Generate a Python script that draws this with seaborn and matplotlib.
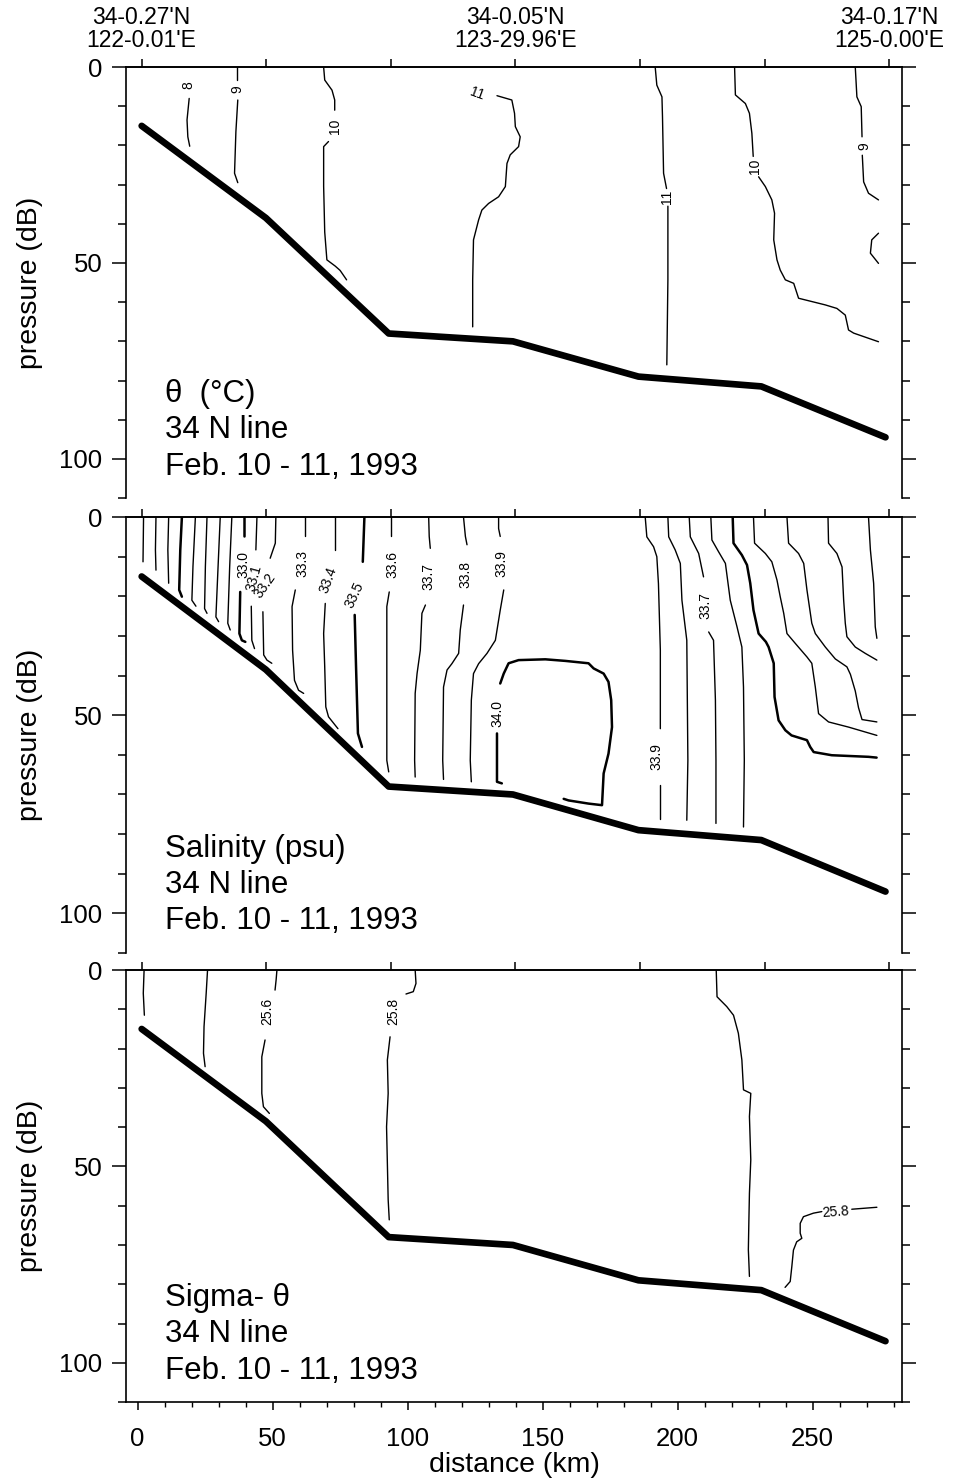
import matplotlib
matplotlib.use("Agg")
import matplotlib.pyplot as plt
import pandas as pd
import seaborn as sns

# ---- bottom topography, same on all three sections (distance km, pressure dB)
topo_km = [1.5, 47.5, 93, 139, 185.5, 231, 277]
topo_db = [15, 38.5, 68, 70, 79, 81.5, 94.5]

# ---- station header on top axis
station_lon = [122.0, 123.5, 125.0]
station_text = ["34-0.27'N\n122-0.01'E", "34-0.05'N\n123-29.96'E", "34-0.17'N\n125-0.00'E"]
lon_ticks = [122.0, 122.5, 123.0, 123.5, 124.0, 124.5, 125.0]
lon0_km = 1.5       # distance of 122E
km_per_deg = 92.3   # one degree of longitude at 34N

# ---- potential temperature contours
theta_8 = [(19.1, 8.0), (18.3, 13.5), (18.6, 17.8), (19.3, 20.2)]
theta_9a = [(36.8, 0.0), (36.8, 3.3)]
theta_9b = [(37.1, 8.4), (36.4, 16.5), (35.9, 27.1), (37.1, 29.5)]
theta_10a = [(68.9, 0.0), (69.3, 3.3), (72.0, 5.9), (73.0, 8.4), (73.0, 11.0)]
theta_10b = [(70.7, 19.0), (68.9, 20.3), (68.9, 30.4), (69.3, 42.1), (70.1, 49.2),
             (73.2, 50.8), (75.0, 51.9), (77.4, 54.3)]
theta_11a = [(133.1, 7.3), (138.6, 8.4), (139.6, 11.8), (139.9, 15.2), (141.7, 17.8),
             (141.1, 20.3), (138.0, 22.4), (136.8, 24.6), (136.2, 30.5), (133.7, 33.1),
             (130.0, 34.8), (127.5, 36.5), (126.3, 39.0), (124.4, 44.1), (124.1, 54.3),
             (124.1, 66.3)]
theta_11b_top = [(191.7, 0.0), (192.3, 4.6), (194.2, 7.6), (194.4, 12.7), (194.8, 27.1),
                 (195.9, 31.0)]
theta_11b_bot = [(196.4, 35.5), (196.4, 54.3), (196.0, 76.0)]
theta_10r_top = [(221.1, 0.0), (221.4, 7.1), (225.1, 9.3), (226.6, 11.8), (227.5, 16.9),
                 (228.0, 22.8)]
theta_10r_bot = [(230.0, 28.0), (232.5, 30.5), (234.9, 33.9), (235.9, 37.3), (235.6, 44.1),
                 (236.8, 49.2), (238.0, 51.8), (239.9, 54.3), (243.0, 55.2), (244.8, 59.0),
                 (254.7, 60.7), (259.0, 61.6), (262.1, 63.3), (263.3, 67.1), (265.2, 67.9),
                 (274.4, 70.1)]
theta_9r_top = [(265.8, 0.0), (266.4, 7.6), (268.0, 10.1), (268.3, 17.8)]
theta_9r_bot = [(268.4, 22.5), (268.9, 29.3), (270.7, 32.2), (274.4, 33.9)]
theta_9r_eddy = [(274.4, 42.4), (271.9, 44.1), (271.4, 47.5), (274.4, 50.1)]

theta_labels = [(18.9, 4.6, "8"), (37.0, 5.6, "9"), (73.0, 15.2, "10"), (125.6, 6.8, "11"),
                (196.0, 33.2, "11"), (228.8, 25.4, "10"), (269.3, 20.1, "9")]
theta_label_rot = [90, 90, 90, -20, 90, 90, 90]

# ---- salinity contours
sal_322 = [(2.2, 0.0), (2.0, 11.3)]
sal_323 = [(6.8, 0.0), (6.6, 8.3), (6.8, 13.4)]
sal_324 = [(11.5, 0.0), (11.2, 8.3), (11.5, 16.7)]
sal_325 = [(16.4, 0.0), (15.8, 8.3), (15.4, 18.4), (16.4, 20.1)]
sal_326 = [(21.4, 0.0), (20.5, 12.5), (20.1, 21.0), (21.6, 22.5)]
sal_327 = [(25.7, 0.0), (25.1, 12.5), (24.8, 23.1), (25.7, 24.3)]
sal_328 = [(30.6, 0.0), (29.8, 12.5), (29.0, 25.2), (30.0, 26.4)]
sal_329 = [(34.9, 0.0), (34.1, 12.5), (33.4, 26.8), (34.3, 28.5)]
sal_330a = [(39.5, 0.0), (39.5, 4.9)]
sal_330b = [(38.0, 18.9), (37.7, 29.4), (38.6, 31.1), (39.9, 31.5)]
sal_331a = [(44.2, 0.0), (43.8, 8.3)]
sal_331b = [(42.1, 22.5), (42.3, 31.1), (43.3, 33.2)]
sal_332a = [(51.2, 0.0), (51.0, 6.6), (49.1, 10.4)]
sal_332b = [(46.4, 23.9), (46.7, 34.8), (47.9, 36.1), (49.7, 36.9)]
sal_333a = [(62.1, 0.0), (62.1, 4.9)]
sal_333b = [(58.4, 18.4), (57.2, 22.6), (57.4, 33.6), (58.1, 41.2), (59.6, 43.7), (61.5, 44.5)]
sal_334a = [(73.0, 0.0), (73.0, 8.3)]
sal_334b = [(69.5, 21.8), (68.9, 29.4), (69.3, 37.8), (69.7, 47.9), (70.7, 50.4), (74.2, 53.4)]
sal_335a = [(84.0, 0.0), (83.4, 11.3)]
sal_335b = [(80.4, 24.7), (80.9, 37.8), (81.6, 54.6), (83.1, 58.0)]
sal_336a = [(94.0, 0.0), (94.0, 4.9)]
sal_336b = [(93.2, 18.9), (92.3, 22.6), (92.3, 61.4), (93.0, 64.3)]
sal_337a = [(107.8, 0.0), (108.0, 4.9), (108.4, 7.9)]
sal_337b = [(106.6, 22.2), (105.3, 24.3), (104.7, 33.6), (103.5, 39.5), (102.8, 44.5),
            (102.6, 61.4), (102.8, 65.6)]
sal_338a = [(120.7, 0.0), (121.4, 4.9), (122.0, 7.0)]
sal_338b = [(120.7, 22.2), (119.5, 28.5), (118.9, 34.4), (116.4, 37.0), (114.6, 38.6),
            (113.3, 42.9), (113.0, 61.4), (113.3, 66.2)]
sal_339a = [(133.7, 0.0), (133.7, 2.9), (134.3, 4.9)]
sal_339b = [(135.6, 18.4), (134.3, 23.5), (132.5, 31.1), (129.4, 34.4), (126.3, 37.0),
            (124.4, 39.5), (123.6, 46.2), (123.2, 61.4), (123.6, 66.8)]
sal_340a = [(134.9, 67.2), (133.1, 66.8), (133.1, 54.6)]
sal_340b = [(134.3, 42.0), (135.6, 39.5), (137.4, 36.9), (141.1, 36.1), (151.0, 35.9),
            (158.4, 36.3), (167.0, 36.9), (168.9, 38.2), (172.6, 39.5), (174.4, 41.6),
            (175.4, 46.2), (175.7, 53.0), (174.4, 59.7), (172.6, 64.7), (172.0, 72.7),
            (167.0, 72.3), (159.6, 71.5), (157.8, 71.1)]
sal_r339a = [(188.0, 0.0), (188.6, 5.0), (191.1, 7.5), (192.3, 10.0), (192.9, 16.8),
             (193.6, 33.6), (193.6, 53.4)]
sal_r339b = [(193.3, 67.7), (193.3, 76.1)]
sal_r338 = [(196.4, 0.0), (196.7, 5.0), (199.1, 8.3), (201.0, 11.7), (201.6, 21.0),
            (203.4, 31.1), (203.8, 61.4), (203.4, 76.5)]
sal_r337a = [(204.3, 0.0), (204.7, 5.0), (207.8, 9.2), (209.6, 15.1)]
sal_r337b = [(211.5, 29.0), (213.3, 31.1), (214.0, 46.2), (214.2, 61.4), (214.2, 77.3)]
sal_r336 = [(212.3, 0.0), (212.7, 5.8), (215.2, 8.8), (217.7, 11.7), (219.5, 21.0),
            (222.0, 27.7), (223.8, 32.8), (224.4, 42.9), (224.7, 61.4), (224.4, 78.2)]
sal_r335 = [(220.4, 0.0), (220.7, 6.6), (223.8, 9.6), (225.7, 12.1), (226.9, 16.7),
            (228.1, 23.5), (230.0, 29.4), (232.7, 31.5), (233.7, 32.8), (235.6, 36.9),
            (235.9, 45.4), (237.4, 51.3), (239.9, 53.8), (242.2, 55.1), (247.9, 56.3),
            (249.1, 58.0), (250.4, 59.3), (257.1, 60.1), (270.7, 60.5), (273.7, 60.7)]
sal_r334 = [(228.1, 0.0), (228.5, 6.6), (232.5, 9.2), (234.9, 11.3), (236.8, 15.9),
            (238.0, 20.1), (239.3, 24.3), (240.5, 29.4), (243.6, 31.9), (247.9, 35.3),
            (249.7, 36.9), (251.0, 42.9), (252.2, 49.6), (255.9, 51.7), (263.3, 53.0),
            (273.8, 55.1)]
sal_r333 = [(240.5, 0.0), (241.1, 6.6), (244.8, 9.2), (246.7, 11.7), (247.9, 18.4),
            (249.7, 26.8), (251.0, 29.4), (254.7, 32.8), (258.4, 35.8), (262.7, 37.8),
            (264.0, 39.7), (265.8, 43.9), (267.0, 48.1), (268.3, 51.1), (273.8, 51.7)]
sal_r332 = [(255.7, 0.0), (255.9, 6.6), (259.0, 9.2), (260.9, 12.6), (261.5, 21.0),
            (262.1, 26.8), (262.7, 30.2), (265.8, 32.8), (269.5, 34.4), (273.8, 36.1)]
sal_r331 = [(270.7, 0.0), (271.4, 8.3), (272.6, 16.7), (273.2, 27.7), (273.8, 30.6)]

sal_labels = [(39.3, 12.1, "33.0"), (43.0, 15.5, "33.1"), (47.3, 17.4, "33.2"),
              (60.9, 11.7, "33.3"), (70.7, 15.9, "33.4"), (80.4, 19.6, "33.5"),
              (94.4, 12.1, "33.6"), (107.8, 15.1, "33.7"), (121.4, 14.6, "33.8"),
              (134.9, 11.7, "33.9"), (133.1, 49.6, "34.0"), (210.3, 22.2, "33.7"),
              (192.0, 60.5, "33.9")]
sal_label_rot = [90, 75, 55, 90, 70, 65, 90, 90, 90, 90, 90, 90, 90]

# ---- sigma-theta contours
sig_252 = [(2.4, 0.0), (2.1, 5.9), (2.5, 11.5)]
sig_254 = [(25.9, 0.0), (25.4, 5.9), (24.6, 14.4), (24.4, 21.2), (25.0, 24.6)]
sig_256a = [(51.6, 0.0), (51.3, 2.5), (50.9, 5.1)]
sig_256b = [(47.2, 17.8), (46.0, 22.1), (46.0, 31.4), (46.6, 34.8), (48.8, 36.5)]
sig_258a = [(102.8, 0.0), (103.1, 3.4), (102.1, 5.5), (99.4, 6.1)]
sig_258b = [(93.5, 17.0), (92.5, 22.9), (92.8, 31.4), (92.2, 39.9), (92.8, 58.5), (93.2, 63.6)]
sig_r258 = [(214.3, 0.0), (214.6, 6.8), (218.2, 9.3), (220.7, 11.5), (222.5, 16.1),
            (223.8, 22.9), (224.4, 30.5), (227.1, 31.4), (226.6, 37.3), (227.1, 48.3),
            (226.6, 56.8), (226.4, 63.6), (226.2, 71.2), (226.6, 78.0)]
sig_e258a = [(273.8, 60.4), (264.5, 60.9)]
sig_e258b = [(253.4, 61.5), (250.3, 61.9), (246.6, 62.8), (245.4, 64.5), (245.4, 67.0),
             (246.0, 68.3), (244.1, 69.2), (242.9, 71.3), (242.3, 75.5), (241.7, 79.3),
             (239.8, 80.8)]

sig_labels = [(47.9, 10.6, "25.6"), (94.7, 10.6, "25.8"), (258.6, 61.6, "25.8")]
sig_label_rot = [90, 90, 4]

panels = [
    dict(thin=[theta_8, theta_9a, theta_9b, theta_10a, theta_10b, theta_11a, theta_11b_top,
               theta_11b_bot, theta_10r_top, theta_10r_bot, theta_9r_top, theta_9r_bot,
               theta_9r_eddy],
         bold=[], labels=theta_labels, rot=theta_label_rot,
         title="\u03b8  (\u00b0C)\n34 N line\nFeb. 10 - 11, 1993"),
    dict(thin=[sal_322, sal_323, sal_324, sal_326, sal_327, sal_328, sal_329, sal_331a, sal_331b,
               sal_332a, sal_332b, sal_333a, sal_333b, sal_334a, sal_334b, sal_336a, sal_336b,
               sal_337a, sal_337b, sal_338a, sal_338b, sal_339a, sal_339b, sal_r339a, sal_r339b,
               sal_r338, sal_r337a, sal_r337b, sal_r336, sal_r334, sal_r333, sal_r332, sal_r331],
         bold=[sal_325, sal_330a, sal_330b, sal_335a, sal_335b, sal_340a, sal_340b, sal_r335],
         labels=sal_labels, rot=sal_label_rot,
         title="Salinity (psu)\n34 N line\nFeb. 10 - 11, 1993"),
    dict(thin=[sig_252, sig_254, sig_256a, sig_256b, sig_258a, sig_258b, sig_r258,
               sig_e258a, sig_e258b],
         bold=[], labels=sig_labels, rot=sig_label_rot,
         title="Sigma- \u03b8\n34 N line\nFeb. 10 - 11, 1993"),
]

sns.set_style("ticks")
plt.rcParams['font.family'] = ['Liberation Sans', 'DejaVu Sans']
plt.rcParams.update({'axes.linewidth': 1.2, 'axes.edgecolor': 'black', 'text.color': 'black',
                     'axes.labelcolor': 'black', 'xtick.color': 'black', 'ytick.color': 'black'})


def segs_to_frame(segs):
    parts = [pd.DataFrame(s, columns=['km', 'db']).assign(seg=i) for i, s in enumerate(segs)]
    return pd.concat(parts, ignore_index=True)


fig = plt.figure(figsize=(9.56, 14.81), dpi=100)
bottoms = [0.6637, 0.3565, 0.0533]
heights = [0.2910, 0.2944, 0.2917]

for k, p in enumerate(panels):
    ax = fig.add_axes([0.1318, bottoms[k], 0.8117, heights[k]])
    sns.lineplot(data=segs_to_frame(p['thin']), x='km', y='db', units='seg', estimator=None,
                 sort=False, color='k', linewidth=1.0, ax=ax, legend=False)
    if p['bold']:
        sns.lineplot(data=segs_to_frame(p['bold']), x='km', y='db', units='seg', estimator=None,
                     sort=False, color='k', linewidth=1.8, ax=ax, legend=False)
    sns.lineplot(x=topo_km, y=topo_db, sort=False, estimator=None, color='k', linewidth=4.8,
                 ax=ax, legend=False)
    for (x, y, t), r in zip(p['labels'], p['rot']):
        ax.text(x, y, t, rotation=r, ha='center', va='center', fontsize=10,
                rotation_mode='anchor')

    ax.text(0.05, 0.038, p['title'], transform=ax.transAxes, fontsize=22.5,
            linespacing=1.28, ha='left', va='bottom')

    ax.set_xlim(-4.3, 283.1)
    ax.set_ylim(110, 0)
    ax.set_yticks([0, 50, 100])
    ax.set_yticks(range(10, 111, 10), minor=True)
    ax.tick_params(axis='y', which='major', length=10, width=1.1, direction='out',
                   left=True, right=True, labelsize=18.5, pad=7)
    ax.tick_params(axis='y', which='minor', length=5.5, width=1.1, direction='out',
                   left=True, right=True)
    ax.set_ylabel('pressure (dB)', fontsize=20.5, labelpad=12)

    if k < 2:
        ax.spines['bottom'].set_visible(False)
        ax.tick_params(axis='x', which='both', bottom=False, top=False, labelbottom=False)
        ax.set_xlabel('')
    else:
        ax.set_xticks(range(0, 251, 50))
        ax.set_xticks(range(10, 281, 10), minor=True)
        ax.tick_params(axis='x', which='major', length=6, width=1.1, direction='out',
                       top=False, labelsize=18.5, pad=12)
        ax.tick_params(axis='x', which='minor', length=3.5, width=1.0, direction='out',
                       top=False)
        ax.set_xlabel('distance (km)', fontsize=20.5, labelpad=1)

    # longitude ticks along the top
    sec = ax.secondary_xaxis('top', functions=(lambda km: (km - lon0_km) / km_per_deg + 122.0,
                                               lambda lon: (lon - 122.0) * km_per_deg + lon0_km))
    sec.set_xticks(lon_ticks)
    sec.set_xticklabels([])
    sec.tick_params(axis='x', length=6, width=1.1, direction='out')
    sec.spines['top'].set_linewidth(1.2)

    if k == 0:
        for lon, txt in zip(station_lon, station_text):
            ax.annotate(txt, xy=((lon - 122.0) * km_per_deg + lon0_km, 1.0),
                        xycoords=('data', 'axes fraction'), xytext=(0, 11),
                        textcoords='offset points', ha='center', va='bottom',
                        fontsize=16.5, linespacing=1.0)

fig.savefig('out.png', dpi=100)
